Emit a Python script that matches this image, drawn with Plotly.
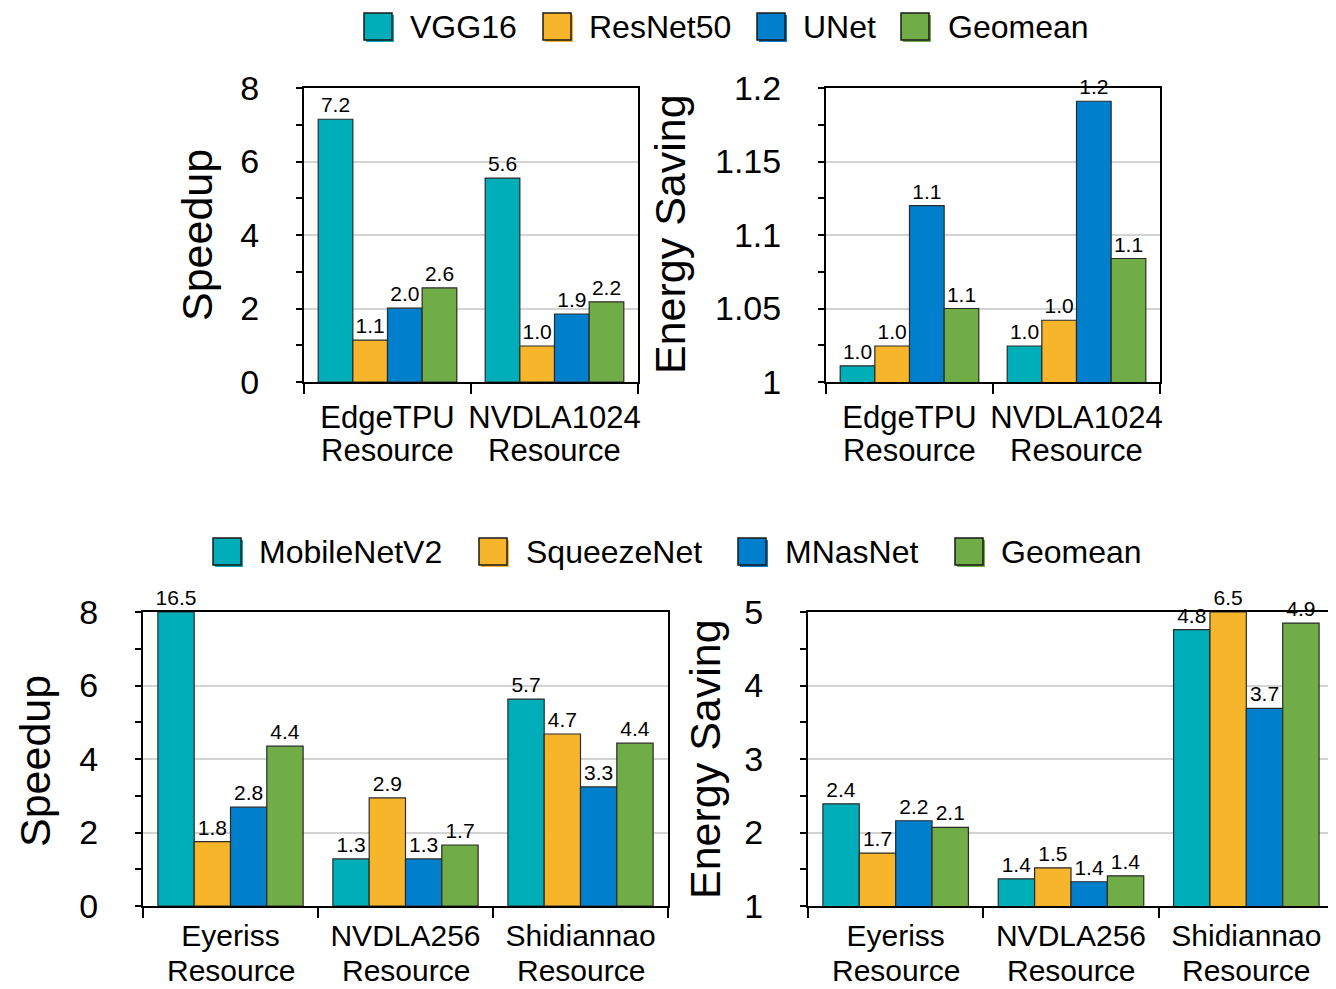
import numpy as np
import plotly.graph_objects as go

# page renders the figure with an 8px body margin; lay out in screen pixels and compensate
OFF = 8
W, H = 1336 - OFF, 989 - OFF

# ---------------- data ----------------
top_categories = ["EdgeTPU", "NVDLA1024"]
top_series = ["VGG16", "ResNet50", "UNet", "Geomean"]
top_speed_values = [[7.15, 5.55], [1.14, 0.98], [2.01, 1.85], [2.56, 2.18]]
top_speed_labels = [["7.2", "5.6"], ["1.1", "1.0"], ["2.0", "1.9"], ["2.6", "2.2"]]
top_energy_values = [[1.011, 1.0245], [1.0245, 1.042], [1.12, 1.191], [1.05, 1.084]]
top_energy_labels = [["1.0", "1.0"], ["1.0", "1.0"], ["1.1", "1.2"], ["1.1", "1.1"]]

bottom_categories = ["Eyeriss", "NVDLA256", "Shidiannao"]
bottom_series = ["MobileNetV2", "SqueezeNet", "MNasNet", "Geomean"]
bot_speed_values = [[16.5, 1.28, 5.63], [1.75, 2.94, 4.68], [2.69, 1.28, 3.24], [4.35, 1.66, 4.43]]
bot_speed_labels = [["16.5", "1.3", "5.7"], ["1.8", "2.9", "4.7"], ["2.8", "1.3", "3.3"], ["4.4", "1.7", "4.4"]]
bot_energy_values = [[2.39, 1.37, 4.76], [1.72, 1.52, 6.5], [2.16, 1.33, 3.69], [2.07, 1.41, 4.85]]
bot_energy_labels = [["2.4", "1.4", "4.8"], ["1.7", "1.5", "6.5"], ["2.2", "1.4", "3.7"], ["2.1", "1.4", "4.9"]]

category_suffix = "Resource"

colors = ["#00AEB9", "#F7B52C", "#007FCC", "#70AD47"]

FONT = "Liberation Sans, Arial, Helvetica, sans-serif"

fig = go.Figure()

panels = [
    ("x", "y", top_categories, top_speed_values, top_speed_labels, [0, 8]),
    ("x2", "y2", top_categories, top_energy_values, top_energy_labels, [1, 1.2]),
    ("x3", "y3", bottom_categories, bot_speed_values, bot_speed_labels, [0, 8]),
    ("x4", "y4", bottom_categories, bot_energy_values, bot_energy_labels, [1, 5]),
]

for xa, ya, cats, vals, labs, rng in panels:
    for i in range(4):
        v = np.minimum(np.array(vals[i], dtype=float), rng[1])  # bars beyond the axis top are cut at the frame
        fig.add_trace(go.Bar(
            x=cats, y=v, xaxis=xa, yaxis=ya,
            marker=dict(color=colors[i], line=dict(color="#2a2a2a", width=1.2)),
            text=labs[i], textposition="outside", cliponaxis=False,
            constraintext="none",
            textfont=dict(family=FONT, size=21, color="black"),
            showlegend=False, hoverinfo="skip",
        ))

def px_x(p):
    return (p - OFF) / W

def px_y(p):
    return 1 - (p - OFF) / H

domains = {
    "x": [px_x(304), px_x(638)], "y": [px_y(382), px_y(88)],
    "x2": [px_x(826), px_x(1160)], "y2": [px_y(382), px_y(88)],
    "x3": [px_x(143), px_x(668)], "y3": [px_y(906), px_y(612)],
    "x4": [px_x(808), px_x(1334)], "y4": [px_y(906), px_y(612)],
}

def xaxis_cfg(fs, standoff):
    return dict(
        showline=True, linecolor="black", linewidth=2, mirror=True,
        ticks="outside", tickson="boundaries", ticklen=10, tickwidth=2, tickcolor="black",
        tickfont=dict(family=FONT, size=fs, color="black"), tickangle=0, automargin=False,
        showgrid=False, zeroline=False, ticklabelstandoff=standoff,
    )

def yaxis_cfg(dom, rng, tv, tt, minor_vals):
    return dict(
        domain=dom, range=rng, automargin=False,
        showline=True, linecolor="black", linewidth=2, mirror=True,
        tickmode="array", tickvals=tv, ticktext=tt,
        ticks="outside", ticklen=6, tickwidth=2, tickcolor="black",
        tickfont=dict(family=FONT, size=34, color="black"),
        ticklabelstandoff=30,
        showgrid=True, gridcolor="#d3d3d3", gridwidth=2, zeroline=False,
        minor=dict(tickmode="array", tickvals=minor_vals, ticks="outside", ticklen=6,
                   tickwidth=2, tickcolor="black", showgrid=False),
    )

layout = dict(
    width=W, height=H, margin=dict(l=0, r=0, t=0, b=0, autoexpand=False),
    paper_bgcolor="white", plot_bgcolor="white",
    barmode="group", bargap=0.17, bargroupgap=0.0,
    showlegend=False,
    font=dict(family=FONT, color="black"),
)
layout["xaxis"] = dict(domain=domains["x"], anchor="y", **xaxis_cfg(31, 7))
layout["xaxis2"] = dict(domain=domains["x2"], anchor="y2", **xaxis_cfg(31, 7))
layout["xaxis3"] = dict(domain=domains["x3"], anchor="y3", **xaxis_cfg(30, 2))
layout["xaxis4"] = dict(domain=domains["x4"], anchor="y4", **xaxis_cfg(30, 2))

layout["yaxis"] = dict(anchor="x", **yaxis_cfg(domains["y"], [0, 8], [0, 2, 4, 6, 8],
                                             ["0", "2", "4", "6", "8"], [1, 3, 5, 7]))
layout["yaxis2"] = dict(anchor="x2", **yaxis_cfg(domains["y2"], [1, 1.2], [1, 1.05, 1.1, 1.15, 1.2],
                                               ["1", "1.05", "1.1", "1.15", "1.2"],
                                               [1.025, 1.075, 1.125, 1.175]))
layout["yaxis3"] = dict(anchor="x3", **yaxis_cfg(domains["y3"], [0, 8], [0, 2, 4, 6, 8],
                                               ["0", "2", "4", "6", "8"], [1, 3, 5, 7]))
layout["yaxis4"] = dict(anchor="x4", **yaxis_cfg(domains["y4"], [1, 5], [1, 2, 3, 4, 5],
                                               ["1", "2", "3", "4", "5"], [1.5, 2.5, 3.5, 4.5]))

fig.update_layout(**layout)

# second line of each category label ("Resource"), tight line spacing as in the reference
for xa, cats, ypx, fs in [("x", top_categories, 450, 31), ("x2", top_categories, 450, 31),
                          ("x3", bottom_categories, 970, 30), ("x4", bottom_categories, 970, 30)]:
    for c in cats:
        fig.add_annotation(text=category_suffix, xref=xa, yref="paper", x=c, y=px_y(ypx),
                           showarrow=False, xanchor="center", yanchor="middle", borderpad=0,
                           font=dict(family=FONT, size=fs, color="black"))

# axis titles
titles = [("Speedup", 197, 235), ("Energy Saving", 670, 234),
          ("Speedup", 35, 761), ("Energy Saving", 705, 759)]
for t, x, y in titles:
    fig.add_annotation(text=t, xref="paper", yref="paper", x=px_x(x), y=px_y(y),
                       textangle=-90, showarrow=False, xanchor="center", yanchor="middle",
                       font=dict(family=FONT, size=43, color="black"))

# legends (drawn manually to match the large swatches)
def add_legend(names, sq_x, txt_x, y_top, y_bot):
    for i, name in enumerate(names):
        x0, x1 = sq_x[i], sq_x[i] + 28
        fig.add_shape(type="rect", xref="paper", yref="paper",
                      x0=px_x(x0 + 2), x1=px_x(x1 + 2), y0=px_y(y_bot + 2), y1=px_y(y_top + 2),
                      fillcolor=colors[i], line=dict(width=0), layer="above")
        fig.add_shape(type="rect", xref="paper", yref="paper",
                      x0=px_x(x0), x1=px_x(x1), y0=px_y(y_bot), y1=px_y(y_top),
                      fillcolor=colors[i], line=dict(color="#1a1a1a", width=1.5), layer="above")
        fig.add_annotation(text=name, xref="paper", yref="paper",
                           x=px_x(txt_x[i]), y=px_y((y_top + y_bot) / 2),
                           xanchor="left", yanchor="middle", showarrow=False,
                           font=dict(family=FONT, size=32, color="black"))

add_legend(top_series, [364, 543, 757, 901], [408, 587, 801, 946], 13, 40)
add_legend(bottom_series, [213, 479, 738, 955], [257, 524, 783, 999], 538, 565)

fig.write_html("out.html")
